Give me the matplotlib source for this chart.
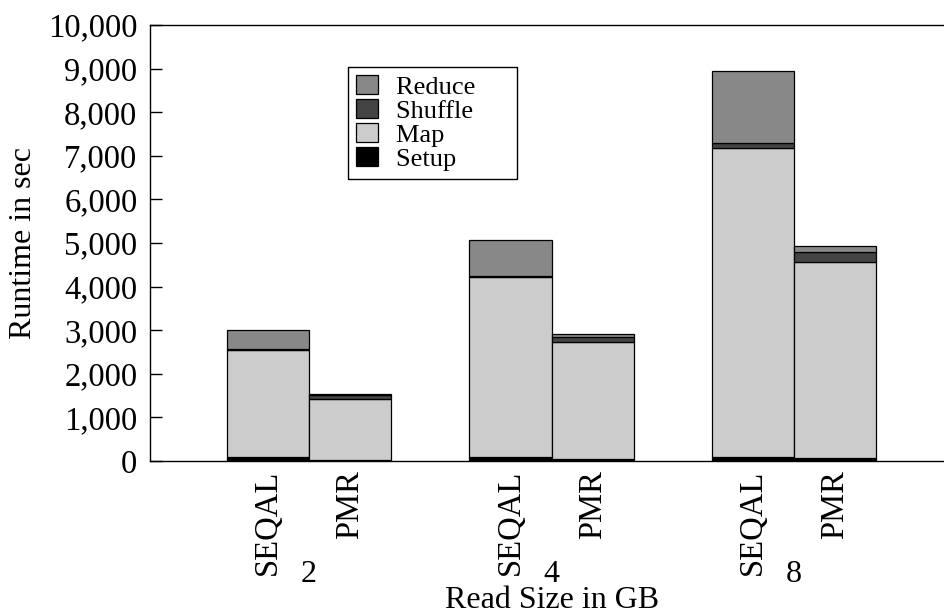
import matplotlib
matplotlib.use("Agg")
import matplotlib.pyplot as plt
import numpy as np
from matplotlib.patches import Patch
from matplotlib.ticker import FuncFormatter

plt.rcParams['font.family'] = ['Liberation Serif', 'DejaVu Serif']

# data (seconds)
sizes = ["2", "4", "8"]
systems = ["SEQAL", "PMR"]
phases = ["Setup", "Map", "Shuffle", "Reduce"]
colors = ["#000000", "#cccccc", "#444444", "#888888"]

setup_seqal = [100, 100, 100]
map_seqal = [2440, 4120, 7070]
shuffle_seqal = [20, 30, 115]
reduce_seqal = [440, 830, 1665]

setup_pmr = [30, 40, 80]
map_pmr = [1400, 2680, 4490]
shuffle_pmr = [95, 115, 215]
reduce_pmr = [15, 75, 150]

values = {
    "SEQAL": [setup_seqal, map_seqal, shuffle_seqal, reduce_seqal],
    "PMR": [setup_pmr, map_pmr, shuffle_pmr, reduce_pmr],
}

fig = plt.figure(figsize=(9.45, 6.14), dpi=100)
ax = fig.add_axes([150 / 945, 1 - 461 / 614, 1 - 150 / 945, 436 / 614])

w = 0.34
x = np.arange(len(sizes))
tick_pos = []
tick_lab = []
for j, sysname in enumerate(systems):
    pos = x + (j - 0.5) * w
    bottom = np.zeros(len(sizes))
    for k, phase in enumerate(phases):
        vals = np.array(values[sysname][k], dtype=float)
        ax.bar(pos, vals, w, bottom=bottom, color=colors[k],
               edgecolor="black", linewidth=0.9, zorder=2)
        bottom += vals
    tick_pos += list(pos)
    tick_lab += [sysname] * len(sizes)

ax.set_xlim(-0.656, 2.623)
ax.set_ylim(0, 10000)
ax.set_yticks(np.arange(0, 10001, 1000))
ax.yaxis.set_major_formatter(FuncFormatter(lambda v, p: f"{int(v):,}"))
ax.tick_params(axis="y", direction="in", length=8.6, width=1, labelsize=23.5, pad=9)

ax.set_xticks(tick_pos)
ax.set_xticklabels(tick_lab, rotation=90, fontsize=23.5)
ax.tick_params(axis="x", length=0, pad=6.5)

ax.spines["right"].set_visible(False)
for s in ["left", "bottom", "top"]:
    ax.spines[s].set_linewidth(1.0)

# group labels under the bars
for i, s in enumerate(sizes):
    ax.annotate(s, xy=(x[i], 0), xycoords=("data", "axes fraction"),
                xytext=(0, -113 * 0.72), textcoords="offset points",
                ha="center", va="center", fontsize=23)

fig.text(552 / 945, 1 - 601 / 614, "Read Size in GB", ha="center", va="center", fontsize=23)
fig.text(24 / 945, 1 - 243 / 614, "Runtime in sec", ha="center", va="center",
         rotation=90, fontsize=23)

# legend box in the original is wider than its text, pad labels with spaces
handles = [Patch(facecolor=colors[k], edgecolor="black", linewidth=0.9) for k in range(4)][::-1]
labels = [p + "\u00a0" * 5 for p in phases[::-1]]
leg = fig.legend(handles, labels, loc="upper left",
                 bbox_to_anchor=(348 / 945, 1 - 67 / 614), borderaxespad=0,
                 fontsize=19, fancybox=False, edgecolor="black", framealpha=1,
                 handlelength=0.83, handleheight=0.76, handletextpad=0.7,
                 labelspacing=0.0, borderpad=0.3)
leg.get_frame().set_linewidth(1.0)

fig.savefig("out.png", dpi=100)
